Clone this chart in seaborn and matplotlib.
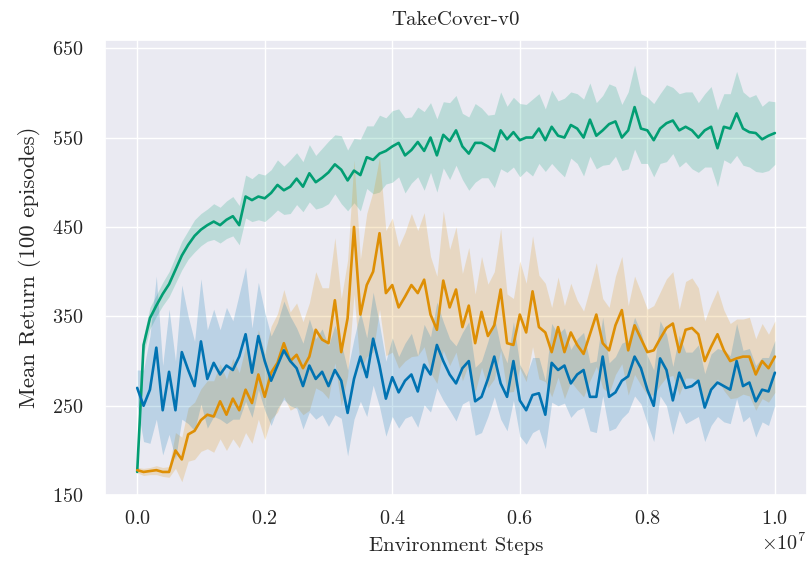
import numpy as np
import pandas as pd
import matplotlib
matplotlib.use("Agg")
import matplotlib.pyplot as plt
import seaborn as sns

# ---------------- data ----------------
steps = np.linspace(0, 1e7, 101)

green_mean = [
    176, 318, 348, 362, 375, 386, 402, 418, 430, 440,
    447, 452, 456, 452, 458, 462, 452, 484, 480, 484,
    482, 488, 497, 491, 495, 504, 495, 510, 500, 505,
    511, 520, 514, 502, 513, 508, 528, 525, 532, 535,
    540, 544, 530, 536, 545, 535, 550, 530, 553, 546,
    558, 540, 532, 544, 544, 540, 535, 558, 548, 556,
    547, 550, 550, 560, 547, 562, 552, 550, 564, 560,
    550, 570, 552, 558, 565, 568, 550, 558, 584, 560,
    558, 547, 560, 566, 569, 558, 562, 558, 550, 558,
    562, 538, 562, 560, 577, 560, 556, 555, 548, 552,
    555,
]
green_hw = [
    3, 10, 12, 12, 13, 14, 15, 16, 16, 18,
    18, 18, 20, 20, 21, 22, 22, 24, 24, 26,
    26, 26, 28, 27, 30, 29, 28, 32, 30, 33,
    35, 33, 38, 34, 36, 40, 35, 38, 43, 37,
    40, 38, 42, 37, 39, 44, 39, 41, 37, 43,
    39, 37, 41, 44, 39, 35, 41, 43, 37, 39,
    41, 37, 43, 39, 35, 41, 39, 44, 37, 39,
    43, 41, 37, 39, 45, 39, 37, 43, 47, 39,
    37, 41, 39, 43, 37, 41, 39, 43, 39, 41,
    45, 43, 37, 39, 47, 41, 39, 43, 37, 39,
    35,
]

orange_mean = [
    178, 176, 177, 178, 176, 176, 200, 190, 218, 222,
    234, 240, 238, 255, 240, 258, 245, 268, 253, 285,
    260, 287, 298, 320, 300, 307, 292, 305, 335, 324,
    320, 368, 310, 348, 450, 352, 385, 400, 443, 376,
    385, 360, 372, 385, 376, 391, 352, 335, 390, 360,
    380, 338, 362, 320, 355, 328, 340, 380, 320, 318,
    352, 332, 378, 338, 332, 310, 338, 310, 332, 318,
    308, 330, 352, 320, 312, 340, 357, 312, 340, 325,
    310, 312, 325, 337, 342, 310, 335, 337, 330, 300,
    316, 330, 312, 300, 303, 305, 305, 285, 300, 292,
    305,
]
orange_hw = [
    3, 4, 4, 5, 5, 6, 20, 25, 30, 32,
    35, 38, 40, 42, 40, 45, 42, 48, 45, 50,
    48, 52, 55, 60, 55, 58, 52, 60, 65, 58,
    62, 70, 60, 65, 75, 62, 80, 90, 85, 70,
    75, 68, 72, 80, 70, 75, 65, 60, 78, 65,
    70, 60, 65, 55, 62, 58, 60, 68, 55, 52,
    60, 55, 62, 58, 55, 50, 56, 52, 55, 50,
    48, 52, 58, 50, 48, 55, 60, 50, 55, 52,
    48, 50, 52, 55, 58, 48, 54, 56, 52, 45,
    48, 50, 45, 42, 44, 42, 44, 40, 42, 38,
    40,
]

blue_mean = [
    270, 250, 268, 315, 245, 288, 245, 310, 290, 272,
    322, 280, 298, 285, 295, 290, 305, 330, 287, 328,
    300, 278, 295, 312, 300, 292, 272, 295, 280, 288,
    272, 290, 278, 242, 280, 305, 282, 325, 295, 258,
    282, 265, 278, 285, 266, 296, 285, 318, 300, 285,
    275, 292, 300, 255, 260, 280, 305, 275, 260, 300,
    256, 245, 262, 264, 240, 298, 290, 295, 275, 285,
    290, 260, 260, 305, 260, 265, 278, 283, 305, 292,
    268, 250, 303, 290, 256, 287, 270, 272, 278, 248,
    268, 276, 272, 268, 300, 272, 276, 255, 268, 266,
    287,
]
blue_hw = [
    20, 40, 60, 80, 50, 70, 55, 75, 60, 50,
    70, 55, 60, 50, 65, 55, 70, 75, 50, 60,
    55, 50, 48, 55, 50, 45, 48, 52, 45, 48,
    45, 50, 42, 48, 45, 50, 44, 52, 46, 42,
    44, 40, 42, 46, 40, 45, 42, 48, 44, 40,
    42, 40, 44, 38, 40, 42, 45, 40, 38, 44,
    40, 38, 42, 40, 38, 44, 40, 42, 38, 40,
    42, 38, 40, 44, 38, 40, 42, 40, 44, 40,
    38, 40, 42, 40, 38, 42, 40, 38, 40, 38,
    40, 38, 40, 38, 42, 40, 38, 40, 36, 38,
    36,
]

series_names = ["green", "orange", "blue"]
series_colors = {"green": "#029e73", "orange": "#de8f05", "blue": "#0173b2"}
means = {"green": green_mean, "orange": orange_mean, "blue": blue_mean}
halfw = {"green": green_hw, "orange": orange_hw, "blue": blue_hw}

y_ticks = [150, 250, 350, 450, 550, 650]
x_ticks = [0, 0.2e7, 0.4e7, 0.6e7, 0.8e7, 1.0e7]

# ---------------- style ----------------
sns.set_theme(style="darkgrid")
plt.rcParams["font.family"] = ["serif"]
plt.rcParams["font.serif"] = ["cmr10", "DejaVu Serif"]
plt.rcParams["mathtext.fontset"] = "cm"
plt.rcParams["axes.formatter.use_mathtext"] = True
plt.rcParams["axes.unicode_minus"] = False

frames = []
for name in series_names:
    frames.append(pd.DataFrame({"step": steps, "ret": means[name], "algo": name}))
df = pd.concat(frames, ignore_index=True)

fig, ax = plt.subplots(figsize=(8.1, 5.64), dpi=100)
fig.subplots_adjust(left=0.13, right=0.996, bottom=0.122, top=0.929)

for name in series_names:
    m = np.asarray(means[name], dtype=float)
    h = np.asarray(halfw[name], dtype=float)
    ax.fill_between(steps, m - h, m + h, color=series_colors[name], alpha=0.2, lw=0)

sns.lineplot(data=df, x="step", y="ret", hue="algo", hue_order=series_names,
             palette=series_colors, legend=False, lw=1.9, ax=ax)

ax.set_ylim(150, 659)
ax.set_yticks(y_ticks)
ax.set_xticks(x_ticks)
ax.tick_params(axis="y", labelsize=14.5, pad=10)
ax.tick_params(axis="x", labelsize=14.5, pad=5)
ax.xaxis.get_offset_text().set_fontsize(14.5)
ax.set_xlabel("Environment Steps", fontsize=15, labelpad=6)
ax.set_ylabel("Mean Return (100 episodes)", fontsize=16.5, labelpad=8)
ax.set_title("TakeCover-v0", fontsize=15, pad=11)

fig.savefig("out.png", dpi=100)
